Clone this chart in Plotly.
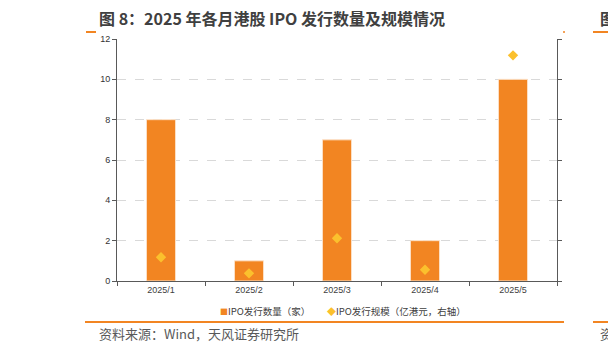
import plotly.graph_objects as go

months = ["2025/1", "2025/2", "2025/3", "2025/4", "2025/5"]
ipo_count = [8, 1, 7, 2, 10]
ipo_size = [11.8, 3.8, 21.2, 5.6, 111.9]  # 亿港元, right axis

title_text = "图 8：2025 年各月港股 IPO 发行数量及规模情况"
source_text = "资料来源：Wind，天风证券研究所"
name_count = "IPO发行数量（家）"
name_size = "IPO发行规模（亿港元，右轴）"
left_ticks = [0, 2, 4, 6, 8, 10, 12]

W, H = 608, 352
L, R, T, B = 117, 51, 39, 71
BAR_COLOR = "#F28522"
DOT_COLOR = "#FBC02D"

fig = go.Figure()
fig.add_trace(go.Bar(
    x=months, y=ipo_count, name=name_count,
    marker=dict(color=BAR_COLOR, line=dict(color="#FCE0C6", width=1)),
    width=0.33, yaxis="y", showlegend=False,
))
fig.add_trace(go.Scatter(
    x=months, y=ipo_size, name=name_size,
    mode="markers", marker=dict(symbol="diamond", color=DOT_COLOR, size=8),
    yaxis="y2", showlegend=False,
))

font_fam = "Liberation Sans, Noto Sans CJK SC, sans-serif"
cjk = "Noto Sans CJK SC, sans-serif"

def px_x(px):
    return (px - L) / (W - L - R)

def px_y(py):
    return (H - B - py) / (H - T - B)

fig.update_layout(
    width=W, height=H,
    margin=dict(l=L, r=R, t=T, b=B, pad=0),
    paper_bgcolor="white", plot_bgcolor="white",
    showlegend=False,
    xaxis=dict(showline=True, linecolor="#595959", linewidth=1,
               ticks="outside", ticklen=4, tickcolor="#595959", tickson="boundaries",
               tickfont=dict(family=font_fam, size=9, color="#404040"),
               showgrid=False, fixedrange=True),
    yaxis=dict(range=[0, 12], tickvals=left_ticks, showline=True, linecolor="#595959", linewidth=1,
               ticks="outside", ticklen=4, tickcolor="#595959",
               tickfont=dict(family=font_fam, size=9, color="#333333"),
               showgrid=True, gridcolor="#D9D9D9", griddash="dash", gridwidth=1,
               zeroline=False),
    yaxis2=dict(range=[0, 120], dtick=20, overlaying="y", side="right",
                showline=True, linecolor="#595959", linewidth=1,
                ticks="outside", ticklen=4, tickcolor="#595959",
                showticklabels=False, showgrid=False, zeroline=False),
)

leg1 = '<span style="color:%s;font-size:8px">■</span>%s' % (BAR_COLOR, name_count)
leg2 = '<span style="color:%s;font-size:9px">◆</span>%s' % (DOT_COLOR, name_size)

annots = [
    dict(text="<b>" + title_text + "</b>", x=97, y=18, font=dict(family=cjk, size=16, color="#404040")),
    dict(text=source_text, x=97, y=333, font=dict(family=cjk, size=13, color="#595959")),
    dict(text="<b>图</b>", x=598, y=18, font=dict(family=cjk, size=16, color="#404040")),
    dict(text="资", x=598, y=333, font=dict(family=cjk, size=13, color="#595959")),
    dict(text=leg1, x=218, y=311, font=dict(family=cjk, size=9.5, color="#404040")),
    dict(text=leg2, x=325, y=311, font=dict(family=cjk, size=9.5, color="#404040")),
]
for a in annots:
    fig.add_annotation(text=a["text"], xref="paper", yref="paper",
                       x=px_x(a["x"]), y=px_y(a["y"]), xanchor="left", yanchor="middle",
                       showarrow=False, font=a["font"])

lines = [
    (86, 96, 32, 2), (563, 565, 32, 1.5), (593, 610, 32, 2),
    (85, 564, 322, 2), (593, 610, 322, 2),
]
for x0, x1, y, w in lines:
    fig.add_shape(type="line", xref="paper", yref="paper",
                  x0=px_x(x0), x1=px_x(x1), y0=px_y(y), y1=px_y(y),
                  line=dict(color=BAR_COLOR, width=w))

fig.write_html("out.html")
